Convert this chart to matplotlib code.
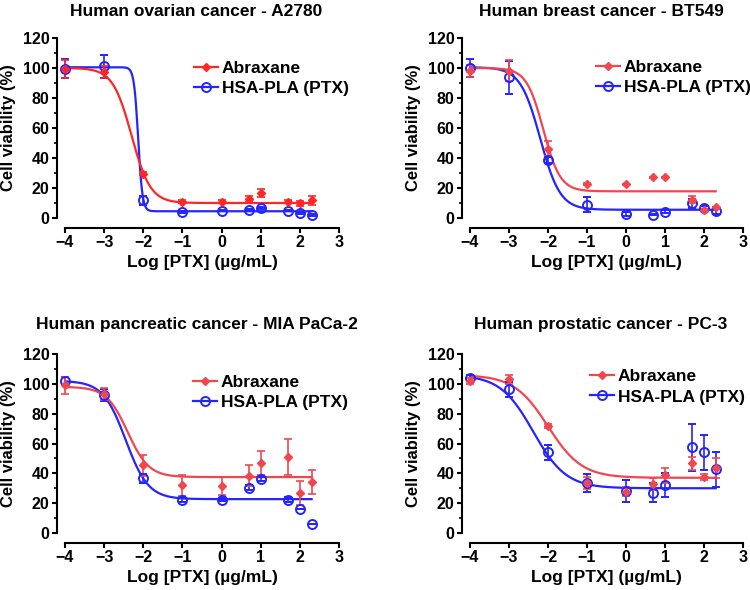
import matplotlib
matplotlib.use("Agg")
import matplotlib.pyplot as plt
from matplotlib.lines import Line2D
from matplotlib.ticker import MultipleLocator
import numpy as np

plt.rcParams['font.family'] = ['Liberation Sans', 'DejaVu Sans']
plt.rcParams['font.weight'] = 'bold'

# log10 of PTX concentration (ug/mL)
log_ptx = [-4, -3, -2, -1, 0, 0.7, 1, 1.7, 2, 2.3]

titles = ["Human ovarian cancer - A2780", "Human breast cancer - BT549",
          "Human pancreatic cancer - MIA PaCa-2", "Human prostatic cancer - PC-3"]

# Abraxane: mean and SD per panel
abx_mean = [
    [99.6, 97.0, 29.6, 10.9, 10.7, 12.9, 16.7, 11.0, 9.8, 11.8],
    [98.2, 98.2, 46.2, 22.7, 22.4, 27.1, 27.1, 12.2, 5.6, 7.1],
    [98.9, 93.1, 45.5, 32.0, 31.6, 38.4, 47.0, 50.7, 27.1, 34.3],
    [102.0, 103.0, 71.8, 33.6, 27.6, 32.8, 38.8, 46.7, 37.7, 43.7],
]
abx_sd = [
    [6.0, 4.0, 1.0, 1.0, 1.0, 2.0, 2.5, 1.0, 1.5, 3.0],
    [4.0, 7.0, 5.0, 0.5, 0.5, 0.5, 0.5, 2.5, 0.5, 0.5],
    [6.0, 4.0, 7.0, 7.0, 6.0, 7.0, 8.0, 12.0, 8.0, 8.0],
    [2.0, 3.0, 1.5, 4.0, 3.0, 4.0, 5.0, 4.5, 2.0, 6.5],
]
# HSA-PLA (PTX): mean and SD per panel
hsa_mean = [
    [99.6, 101.0, 12.0, 4.0, 4.9, 5.6, 6.7, 4.9, 3.3, 2.0],
    [100.0, 93.8, 38.4, 8.9, 2.7, 2.2, 4.2, 10.0, 6.7, 4.9],
    [102.0, 92.6, 36.6, 22.4, 22.4, 30.5, 36.1, 22.4, 16.4, 6.1],
    [103.9, 96.5, 54.0, 33.6, 28.0, 27.1, 32.0, 57.4, 54.0, 42.6],
]
hsa_sd = [
    [6.5, 7.5, 3.0, 0.5, 0.5, 0.5, 0.5, 0.5, 0.5, 0.5],
    [6.0, 11.0, 2.0, 5.0, 1.5, 0.5, 1.0, 3.0, 1.0, 2.5],
    [2.5, 4.0, 3.0, 1.5, 1.0, 1.5, 1.5, 1.5, 0.0, 0.0],
    [2.0, 5.0, 5.0, 6.0, 7.5, 6.5, 8.0, 16.0, 11.5, 12.0],
]

# fitted 4PL parameters: top, bottom, logIC50, hill slope
abx_fit = [(100, 10, -2.30, 1.8), (100, 17.8, -2.12, 2.0),
           (98, 37.5, -2.40, 1.6), (106, 37, -2.00, 1.0)]
hsa_fit = [(100.5, 4.5, -2.13, 8.0), (100.5, 5.5, -2.20, 1.7),
           (102, 22.7, -2.45, 1.5), (106, 30, -2.38, 1.03)]

abx_colors = ['#ff2626', '#f0474f', '#f0474f', '#f0474f']
blue = '#2424ff'

# axes rectangles in figure fractions (data area)
rects = [[0.0867, 0.6305, 0.3653, 0.3051], [0.6267, 0.6305, 0.364, 0.3051],
         [0.0867, 0.0966, 0.3653, 0.3034], [0.6267, 0.0966, 0.364, 0.3034]]
legend_pos = [(0.471, 0.873), (0.4615, 0.878), (0.467, 0.883), (0.44, 0.916)]
title_y = [1.12, 1.12, 1.14, 1.14]


def four_pl(x, top, bottom, logic50, hill):
    return bottom + (top - bottom) / (1 + 10 ** ((x - logic50) * hill))


fig = plt.figure(figsize=(7.5, 5.9), dpi=100)

for i in range(4):
    ax = fig.add_axes(rects[i])
    red = abx_colors[i]
    xs = np.linspace(log_ptx[0], log_ptx[-1], 300)

    ax.plot(xs, four_pl(xs, *hsa_fit[i]), color=blue, lw=1.6, clip_on=False)
    ax.plot(xs, four_pl(xs, *abx_fit[i]), color=red, lw=1.6, clip_on=False)
    ax.errorbar(log_ptx, hsa_mean[i], yerr=hsa_sd[i], fmt='o', color=blue,
                mfc='none', mec=blue, mew=1.4, ms=6.5, ecolor=blue,
                elinewidth=1.2, capsize=3, capthick=1.2, clip_on=False)
    ax.errorbar(log_ptx, abx_mean[i], yerr=abx_sd[i], fmt='D', color=red,
                ms=4, ecolor=red, elinewidth=1.2, capsize=3, capthick=1.2,
                clip_on=False)

    ax.set_xlim(-4, 3)
    ax.set_ylim(0, 120)
    ax.xaxis.set_major_locator(MultipleLocator(1))
    ax.yaxis.set_major_locator(MultipleLocator(20))
    ax.yaxis.set_minor_locator(MultipleLocator(10))
    ax.spines['top'].set_visible(False)
    ax.spines['right'].set_visible(False)
    ax.spines['left'].set_position(('outward', 6))
    ax.spines['bottom'].set_position(('outward', 7.5))
    for s in ['left', 'bottom']:
        ax.spines[s].set_linewidth(1.5)
    ax.tick_params(which='major', length=3.5, width=1.5, labelsize=11.5, pad=1.5)
    ax.tick_params(which='minor', length=2.5, width=1.2)
    ax.xaxis.set_minor_locator(plt.NullLocator())

    ax.set_xlabel("Log [PTX] (µg/mL)", fontsize=12.5, fontweight='bold')
    ax.set_ylabel("Cell viability (%)", fontsize=12, fontweight='bold')
    ax.xaxis.set_label_coords(0.5, -0.205)
    ax.yaxis.set_label_coords(-0.18, 0.5)
    ax.text(0.48, title_y[i], titles[i], transform=ax.transAxes, ha='center',
            va='baseline', fontsize=12.5, fontweight='bold')

    handles = [Line2D([], [], color=red, marker='D', ms=4, lw=1.6),
               Line2D([], [], color=blue, marker='o', mfc='none', mec=blue,
                      mew=1.4, ms=6.5, lw=1.6)]
    ax.legend(handles, ["Abraxane", "HSA-PLA (PTX)"], loc='upper left',
              bbox_to_anchor=legend_pos[i], frameon=False,
              handlelength=1.4, handletextpad=0.2, labelspacing=0.3,
              borderpad=0, borderaxespad=0, prop={'weight': 'bold', 'size': 12.5})

fig.savefig("out.png", dpi=100)
